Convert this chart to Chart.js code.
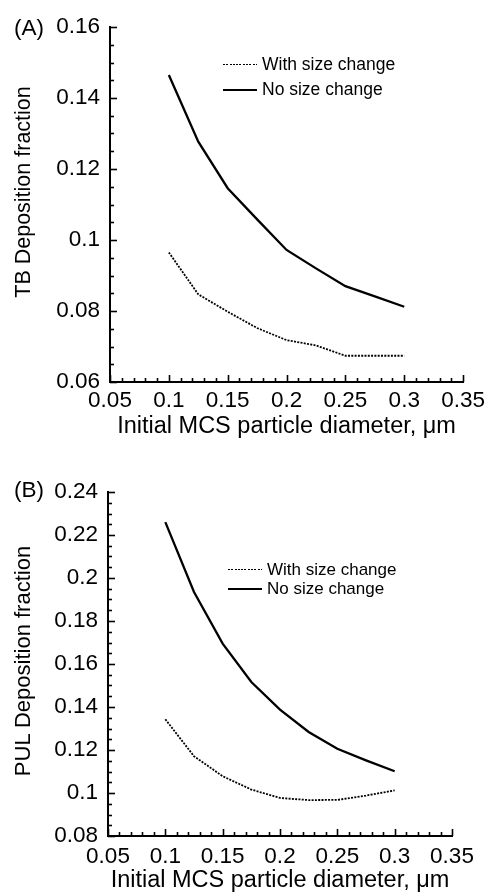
<!DOCTYPE html>
<html>
<head>
<meta charset="utf-8">
<script src="https://cdn.jsdelivr.net/npm/chart.js@4/dist/chart.umd.min.js"></script>
<style>
  html, body { margin: 0; padding: 0; background: #fff; }
  #wrap { position: relative; width: 490px; height: 895px; overflow: hidden; font-family: "Liberation Sans", Arial, sans-serif; color: #000; }
  canvas { position: absolute; left: 0; }
  .panel { position: absolute; font-size: 22.5px; line-height: 26px; }
  .ytitle { position: absolute; white-space: nowrap; line-height: 1; transform: translate(-50%, -50%) rotate(-90deg); }
  .legend { position: absolute; }
  .row { display: flex; align-items: center; white-space: nowrap; }
  .sample { width: 34px; height: 2px; background: #000; }
  .sample.dot { height: 1.6px; background: repeating-linear-gradient(to right, #000 0 2px, transparent 2px 3.3px); }
</style>
</head>
<body>
<div id="wrap">
  <canvas id="cA" width="490" height="445" style="top:0"></canvas>
  <canvas id="cB" width="490" height="450" style="top:445px"></canvas>
  <div class="panel" style="left:14px;top:15px">(A)</div>
  <div class="panel" style="left:14px;top:477px">(B)</div>
  <div class="ytitle" id="ytA" style="left:24px;top:192px;font-size:21.5px"></div>
  <div class="ytitle" id="ytB" style="left:23px;top:661px;font-size:22px"></div>
  <div class="legend" id="legA" style="left:223px;top:52px"></div>
  <div class="legend" id="legB" style="left:228px;top:560px"></div>
</div>
<script>
// ---- data ----
const diameters = [0.1, 0.125, 0.15, 0.175, 0.2, 0.225, 0.25, 0.275, 0.3];
const seriesLabels = ["With size change", "No size change"];
const tbWithChange = [0.0965, 0.0847, 0.0798, 0.0752, 0.0718, 0.0703, 0.0674, 0.0674, 0.0674];
const tbNoChange   = [0.1465, 0.1277, 0.1146, 0.1058, 0.0972, 0.0920, 0.0870, 0.0841, 0.0812];
const pulWithChange = [0.1343, 0.1171, 0.1078, 0.1016, 0.0977, 0.0967, 0.0968, 0.0988, 0.1012];
const pulNoChange   = [0.2260, 0.1935, 0.1695, 0.1516, 0.1388, 0.1284, 0.1206, 0.1152, 0.1101];
const xTicks = [0.05, 0.1, 0.15, 0.2, 0.25, 0.3, 0.35];
const tbTicks = [0.06, 0.08, 0.1, 0.12, 0.14, 0.16];
const pulTicks = [0.08, 0.1, 0.12, 0.14, 0.16, 0.18, 0.2, 0.22, 0.24];
const xTitle = "Initial MCS particle diameter, \u03bcm";
const tbTitle = "TB Deposition fraction";
const pulTitle = "PUL Deposition fraction";

const FONT = '"Liberation Sans", Arial, sans-serif';
const fmt = v => String(+(+v).toFixed(3));

const inwardTicks = {
  id: 'inwardTicks',
  afterDraw(chart) {
    const o = chart.options.plugins.inwardTicks;
    const ctx = chart.ctx, xs = chart.scales.x, ys = chart.scales.y, a = chart.chartArea;
    ctx.save();
    ctx.strokeStyle = '#000';
    ctx.lineWidth = 1.6;
    const nx = Math.round((xs.max - xs.min) / o.xMinor);
    for (let i = 0; i <= nx; i++) {
      const v = xs.min + i * o.xMinor;
      const major = i % o.xPer === 0;
      const px = Math.round(xs.getPixelForValue(v)) + 0.5;
      ctx.beginPath(); ctx.moveTo(px, a.bottom); ctx.lineTo(px, a.bottom - (major ? 7 : 4)); ctx.stroke();
    }
    const ny = Math.round((ys.max - ys.min) / o.yMinor);
    for (let i = 0; i <= ny; i++) {
      const v = ys.min + i * o.yMinor;
      const major = i % o.yPer === 0;
      const py = Math.round(ys.getPixelForValue(v)) + 0.5;
      ctx.beginPath(); ctx.moveTo(a.left, py); ctx.lineTo(a.left + (major ? 7 : 4), py); ctx.stroke();
    }
    ctx.restore();
  }
};

function makeChart(id, cfg) {
  const pts = arr => diameters.map((d, i) => ({x: d, y: arr[i]}));
  return new Chart(document.getElementById(id), {
    type: 'line',
    data: {
      datasets: [
        { label: seriesLabels[0], data: pts(cfg.withC), borderColor: '#000', borderWidth: 1.8, borderDash: [2, 1.3], pointRadius: 0, tension: 0, fill: false },
        { label: seriesLabels[1], data: pts(cfg.noC), borderColor: '#000', borderWidth: 2.3, pointRadius: 0, tension: 0, fill: false }
      ]
    },
    options: {
      responsive: false, animation: false, devicePixelRatio: 1,
      layout: { padding: cfg.pad },
      plugins: { legend: { display: false }, tooltip: { enabled: false },
        inwardTicks: { xMinor: 0.01, xPer: 5, yMinor: 0.005, yPer: 4 } },
      scales: {
        x: {
          type: 'linear', min: 0.05, max: 0.35,
          afterBuildTicks: s => { s.ticks = xTicks.map(v => ({value: v})); },
          afterFit: s => { s.height = cfg.xH; },
          grid: { drawOnChartArea: false, drawTicks: false },
          border: { display: true, color: '#000', width: 2 },
          ticks: { color: '#000', font: { family: FONT, size: 22.5 }, padding: cfg.xTickPad, maxRotation: 0, autoSkip: false, callback: fmt },
          title: { display: true, text: xTitle, color: '#000', font: { family: FONT, size: 23.5 }, padding: { top: 0, bottom: cfg.xTitlePad } }
        },
        y: {
          type: 'linear', min: cfg.yTicks[0], max: cfg.yTicks[cfg.yTicks.length - 1],
          afterBuildTicks: s => { s.ticks = cfg.yTicks.map(v => ({value: v})); },
          afterFit: s => { s.width = cfg.yW; },
          grid: { drawOnChartArea: false, drawTicks: false },
          border: { display: true, color: '#000', width: 2 },
          ticks: { color: '#000', font: { family: FONT, size: 22.5 }, padding: 10, autoSkip: false, callback: fmt },
          title: { display: false }
        }
      }
    },
    plugins: [inwardTicks]
  });
}

makeChart('cA', { withC: tbWithChange, noC: tbNoChange, yTicks: tbTicks,
  pad: { top: 27, right: 24, left: 0, bottom: 0 }, xH: 63, yW: 110, xTickPad: 5, xTitlePad: 4 });
makeChart('cB', { withC: pulWithChange, noC: pulNoChange, yTicks: pulTicks,
  pad: { top: 47, right: 38, left: 0, bottom: 0 }, xH: 59, yW: 108, xTickPad: 7, xTitlePad: 0 });

document.getElementById('ytA').textContent = tbTitle;
document.getElementById('ytB').textContent = pulTitle;

function buildLegend(elId, fontSize, rowH) {
  const el = document.getElementById(elId);
  seriesLabels.forEach((lab, i) => {
    const row = document.createElement('div');
    row.className = 'row';
    row.style.height = rowH + 'px';
    row.style.fontSize = fontSize + 'px';
    const s = document.createElement('div');
    s.className = 'sample' + (i === 0 ? ' dot' : '');
    s.style.marginRight = '5px';
    const t = document.createElement('span');
    t.textContent = lab;
    row.appendChild(s); row.appendChild(t);
    el.appendChild(row);
  });
}
buildLegend('legA', 17.5, 25);
buildLegend('legB', 17, 19);
</script>
</body>
</html>
